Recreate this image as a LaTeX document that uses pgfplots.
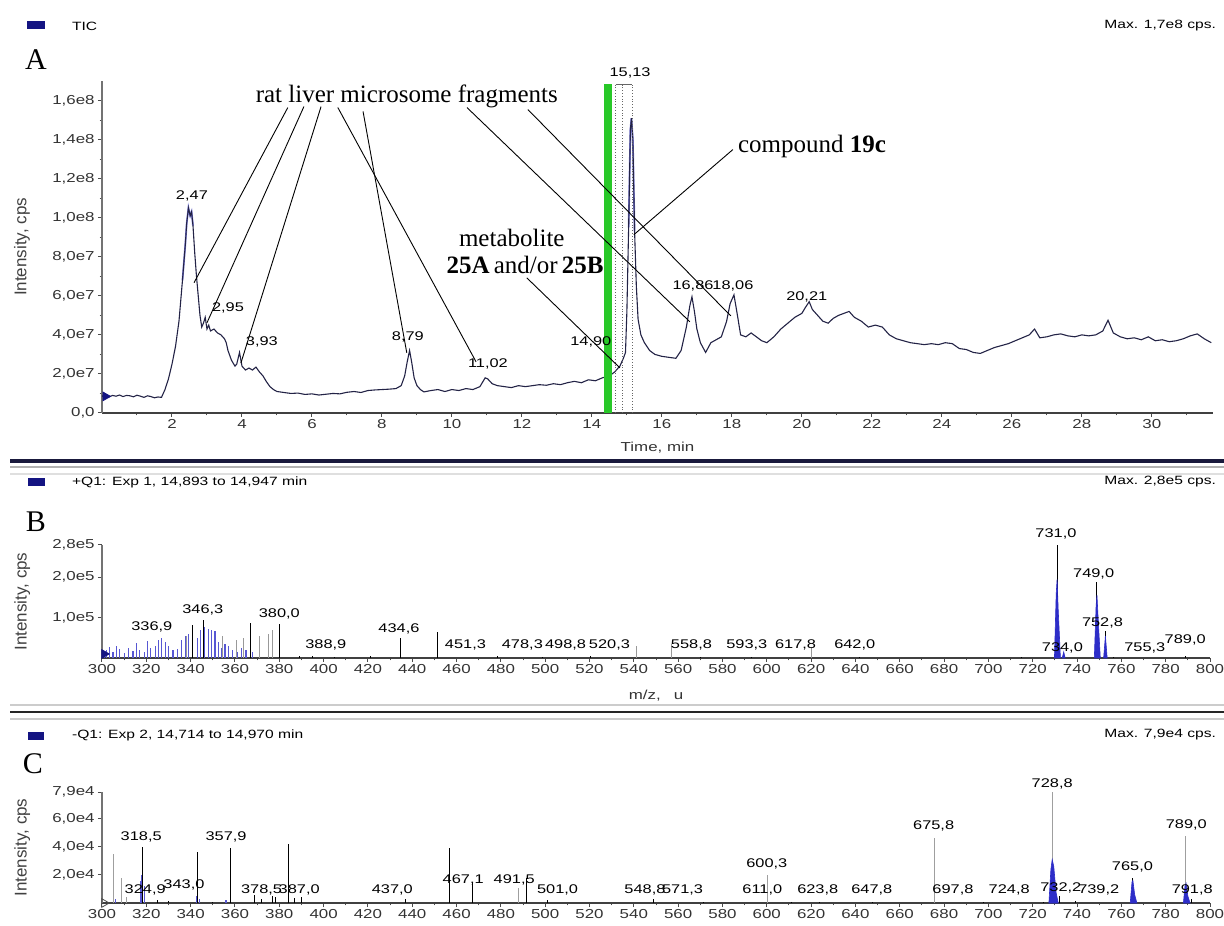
\documentclass[border=0pt]{standalone}
\usepackage{fontspec}
\setmainfont{Liberation Serif}
\setsansfont{Liberation Sans}
\newfontfamily\sansw[FakeStretch=1.3]{Liberation Sans}
\usepackage{pgfplots}
\pgfplotsset{compat=1.18}
\definecolor{navy}{RGB}{20,20,130}
\definecolor{trace}{RGB}{35,35,70}
\definecolor{bblue}{RGB}{45,45,200}
\definecolor{lgreen}{RGB}{40,200,40}
\newcommand\tickf{\sansw\fontsize{6.5}{7.5}\selectfont}
\newcommand\labf{\sansw\fontsize{6.3}{7}\selectfont}
\newcommand\headf{\sansw\fontsize{6}{7}\selectfont}
\newcommand\annf{\fontsize{12.5}{14}\selectfont}
\newcommand\bigf{\fontsize{15}{16}\selectfont}
\newcommand\ylabf{\sffamily\fontsize{8.5}{9}\selectfont}

\pgfplotsset{
 msstyle/.style={
  scale only axis,
  axis lines=left,
  axis line style={-},
  x axis line style={-, line width=1pt, color=black!75},
  y axis line style={-, line width=0.6pt, color=black!55},
  tick align=outside,
  major tick length=2pt,
  minor tick length=1.2pt,
  every tick/.style={black!70, line width=0.5pt},
  tick label style={font=\tickf, color=black!80},
  /pgf/number format/assume math mode=true,
  xticklabel style={inner sep=1pt},
  yticklabel style={inner sep=1.5pt},
  every axis y label/.style={at={(axis description cs:-0.072,0.5)},rotate=90,anchor=center,font=\ylabf,color=black!75},
  clip=false,
 }
}

\begin{document}
\begin{tikzpicture}
\path[use as bounding box] (0,0) rectangle (612pt,462.5pt);

% ---------- headers ----------
\fill[navy] (13.5pt,448pt) rectangle (22.5pt,452pt);
\node[anchor=west,font=\headf] at (32.5pt,449.5pt) {TIC};
\node[anchor=east,font=\headf] at (611.5pt,449.5pt) {Max. 1,7e8 cps.};
\node[font=\bigf] at (18pt,432.5pt) {A};

\fill[navy] (14pt,219.5pt) rectangle (22.5pt,223.5pt);
\node[anchor=west,font=\headf] at (32.5pt,221.5pt) {+Q1: Exp 1, 14,893 to 14,947 min};
\node[anchor=east,font=\headf] at (611.5pt,221.5pt) {Max. 2,8e5 cps.};
\node[font=\bigf] at (18pt,201.5pt) {B};

\fill[navy] (14pt,92.5pt) rectangle (22pt,96.5pt);
\node[anchor=west,font=\headf] at (32.5pt,95pt) {-Q1: Exp 2, 14,714 to 14,970 min};
\node[anchor=east,font=\headf] at (611.5pt,95pt) {Max. 7,9e4 cps.};
\node[font=\bigf] at (16.5pt,80.5pt) {C};

% ---------- separators ----------
\draw[line width=1.6pt, color={rgb,255:red,25;green,25;blue,60}] (5pt,232pt) -- (612pt,232pt);
\draw[line width=0.8pt, gray!60] (5pt,229pt) -- (612pt,229pt);
\draw[line width=0.6pt, gray!25] (5pt,225.5pt) -- (612pt,225.5pt);
\draw[line width=0.8pt, gray!40] (5pt,110pt) -- (612pt,110pt);
\draw[line width=1.2pt, black!85] (5pt,106.5pt) -- (612pt,106.5pt);
\draw[line width=0.8pt, gray!40] (5pt,103pt) -- (612pt,103pt);

% ================= PANEL A =================
\begin{axis}[msstyle,
  at={(51pt,256pt)}, anchor=south west,
  width=555.5pt, height=166pt,
  xmin=0, xmax=31.75, ymin=0, ymax=17,
  xtick={2,4,...,30}, minor xtick={1,3,...,31},
  ytick={0,2,...,16}, minor ytick={1,3,...,15},
  yticklabels={{0,0},{2,0e7},{4,0e7},{6,0e7},{8,0e7},{1,0e8},{1,2e8},{1,4e8},{1,6e8}},
  xlabel={Time, min},
  every axis x label/.style={at={(axis description cs:0.5,-0.105)},anchor=center,font=\tickf,color=black!80},
  ylabel={Intensity, cps},
]
\addplot[color=bblue, line width=0.9pt, opacity=0.6] coordinates {
(2.30,6.80)(2.38,8.60)(2.42,9.70)(2.47,10.50)(2.52,10.10)(2.56,10.30)(2.60,9.60)
};
\addplot[color=bblue, line width=0.9pt, opacity=0.6] coordinates {
(15.05,9.50)(15.10,14.50)(15.13,15.10)(15.17,14.00)(15.22,9.30)
};
\addplot[color=trace, line width=0.55pt] coordinates {
(0.00,0.85)(0.10,0.95)(0.20,0.82)(0.30,0.90)(0.40,0.86)(0.50,0.92)(0.60,0.84)(0.70,0.90)
(0.80,0.88)(0.90,0.83)(1.00,0.91)(1.10,0.86)(1.20,0.80)(1.30,0.88)(1.40,0.84)(1.50,0.78)
(1.60,0.82)(1.70,0.80)(1.80,1.20)(1.90,1.75)(2.00,2.50)(2.10,3.40)(2.20,4.70)(2.30,6.80)
(2.38,8.60)(2.42,9.70)(2.47,10.50)(2.52,10.10)(2.56,10.30)(2.60,9.60)(2.65,8.20)(2.70,7.00)
(2.75,6.00)(2.80,5.00)(2.85,4.40)(2.90,4.60)(2.95,4.90)(3.00,4.30)(3.05,4.50)(3.10,4.20)
(3.20,4.30)(3.30,4.10)(3.40,4.00)(3.50,3.80)(3.55,3.60)(3.60,3.20)(3.70,2.70)(3.80,2.40)
(3.85,2.50)(3.93,3.10)(4.00,2.40)(4.10,2.20)(4.20,2.30)(4.30,2.20)(4.40,2.35)(4.50,2.10)
(4.60,1.90)(4.70,1.60)(4.80,1.35)(4.90,1.20)(5.00,1.10)(5.20,1.05)(5.40,1.00)(5.60,1.02)
(5.80,0.95)(6.00,0.98)(6.20,0.92)(6.40,0.96)(6.60,1.00)(6.80,0.98)(7.00,1.06)(7.20,1.10)
(7.40,1.05)(7.60,1.15)(7.80,1.18)(8.00,1.20)(8.20,1.22)(8.40,1.25)(8.55,1.40)(8.65,1.90)
(8.72,2.60)(8.79,3.20)(8.85,2.60)(8.92,1.80)(9.00,1.40)(9.10,1.20)(9.20,1.08)(9.40,1.15)
(9.60,1.20)(9.80,1.10)(10.00,1.20)(10.20,1.15)(10.40,1.25)(10.60,1.20)(10.80,1.35)(10.95,1.80)
(11.02,1.75)(11.15,1.50)(11.30,1.40)(11.50,1.35)(11.70,1.30)(11.90,1.40)(12.10,1.35)(12.30,1.40)
(12.50,1.45)(12.70,1.42)(12.90,1.50)(13.10,1.45)(13.30,1.55)(13.50,1.62)(13.70,1.55)(13.90,1.70)
(14.10,1.65)(14.30,1.80)(14.50,1.90)(14.65,2.10)(14.80,2.40)(14.90,2.80)(14.96,3.10)(15.00,5.20)
(15.05,9.50)(15.10,14.50)(15.13,15.10)(15.17,14.00)(15.22,9.30)(15.27,6.50)(15.32,4.80)(15.40,4.00)
(15.50,3.60)(15.65,3.20)(15.80,3.00)(16.00,2.90)(16.20,2.85)(16.40,2.80)(16.55,3.20)(16.70,4.40)
(16.80,5.50)(16.86,5.95)(16.93,5.20)(17.00,4.30)(17.10,3.60)(17.25,3.10)(17.40,3.60)(17.55,3.75)
(17.70,3.90)(17.85,4.70)(17.95,5.60)(18.06,6.05)(18.15,5.10)(18.25,4.00)(18.40,3.90)(18.55,4.10)
(18.70,3.90)(18.85,3.70)(19.00,3.60)(19.20,3.90)(19.40,4.30)(19.60,4.60)(19.80,4.90)(20.00,5.10)
(20.10,5.40)(20.21,5.70)(20.30,5.30)(20.45,5.00)(20.60,4.70)(20.75,4.60)(20.90,4.85)(21.05,5.00)
(21.20,5.10)(21.35,5.20)(21.50,4.90)(21.70,4.70)(21.90,4.40)(22.10,4.50)(22.30,4.40)(22.50,4.00)
(22.70,3.80)(22.90,3.70)(23.10,3.60)(23.30,3.55)(23.50,3.50)(23.70,3.55)(23.90,3.50)(24.10,3.60)
(24.30,3.55)(24.50,3.30)(24.70,3.25)(24.90,3.10)(25.10,3.05)(25.30,3.20)(25.50,3.35)(25.70,3.45)
(25.90,3.55)(26.10,3.70)(26.30,3.85)(26.50,4.00)(26.65,4.30)(26.80,3.85)(27.00,3.90)(27.20,4.00)
(27.40,4.05)(27.60,3.95)(27.80,3.90)(28.00,4.00)(28.20,3.95)(28.40,4.00)(28.60,4.20)(28.75,4.75)
(28.90,4.10)(29.10,3.90)(29.30,3.80)(29.50,3.85)(29.70,3.75)(29.90,3.90)(30.10,3.70)(30.30,3.75)
(30.50,3.65)(30.70,3.70)(30.90,3.80)(31.10,3.95)(31.30,4.05)(31.50,3.80)(31.70,3.60)
};
\addplot[only marks, mark=triangle*, mark size=2.5pt, color=navy, mark options={rotate=-90}] coordinates {(0.1,0.85)};
% green time window and dotted markers
\fill[lgreen] (axis cs:14.34,0) rectangle (axis cs:14.57,16.85);
\draw[densely dotted, black!60, line width=0.4pt] (axis cs:14.68,0) -- (axis cs:14.68,16.85);
\draw[densely dotted, black!60, line width=0.4pt] (axis cs:14.87,0) -- (axis cs:14.87,16.85);
\draw[densely dotted, black!60, line width=0.4pt] (axis cs:15.16,0) -- (axis cs:15.16,16.85);
\draw[black!60, line width=0.3pt] (axis cs:14.68,16.85) -- (axis cs:15.16,16.85);
% peak labels
\node[font=\labf] at (axis cs:2.57,11.1) {2,47};
\node[font=\labf] at (axis cs:3.6,5.4) {2,95};
\node[font=\labf] at (axis cs:4.57,3.64) {3,93};
\node[font=\labf] at (axis cs:8.74,3.9) {8,79};
\node[font=\labf] at (axis cs:11.03,2.5) {11,02};
\node[font=\labf] at (axis cs:13.97,3.64) {14,90};
\node[font=\labf] at (axis cs:15.09,17.4) {15,13};
\node[font=\labf] at (axis cs:16.89,6.5) {16,86};
\node[font=\labf] at (axis cs:18.03,6.5) {18,06};
\node[font=\labf] at (axis cs:20.14,5.95) {20,21};
% annotations
\node[font=\annf] at (axis cs:8.71,16.2) {rat liver microsome fragments};
\draw[black, line width=0.45pt] (axis cs:5.31,15.64) -- (axis cs:2.63,6.67);
\draw[black, line width=0.45pt] (axis cs:5.77,15.69) -- (axis cs:3.0,4.62);
\draw[black, line width=0.45pt] (axis cs:6.26,15.69) -- (axis cs:3.97,2.56);
\draw[black, line width=0.45pt] (axis cs:6.74,15.64) -- (axis cs:10.69,2.62);
\draw[black, line width=0.45pt] (axis cs:7.46,15.44) -- (axis cs:8.71,3.08);
\draw[black, line width=0.45pt] (axis cs:10.43,15.64) -- (axis cs:16.8,4.67);
\draw[black, line width=0.45pt] (axis cs:12.17,15.54) -- (axis cs:17.97,4.97);
\node[font=\annf] at (axis cs:20.29,13.64) {compound \textbf{19c}};
\draw[black, line width=0.45pt] (axis cs:18.03,13.49) -- (axis cs:15.2,9.13);
\node[font=\annf] at (axis cs:11.71,8.97) {metabolite};
\node[font=\annf] at (axis cs:12.09,7.59) {\textbf{25A}\,and/or\,\textbf{25B}};
\draw[black, line width=0.45pt] (axis cs:12.14,6.92) -- (axis cs:14.8,2.31);
\end{axis}

% ================= PANEL B =================
\begin{axis}[msstyle,
  at={(51pt,133.5pt)}, anchor=south west,
  width=554pt, height=56.5pt,
  xmin=300, xmax=800, ymin=0, ymax=2.8,
  xtick={300,320,...,800}, minor xtick={310,330,...,790},
  ytick={1,2,2.8}, yticklabels={{1,0e5},{2,0e5},{2,8e5}},
  xlabel={m/z,\quad u},
  every axis x label/.style={at={(axis description cs:0.5,-0.336)},anchor=center,font=\tickf,color=black!80},
  ylabel={Intensity, cps},
]
\addplot[ycomb, color=bblue!80, line width=0.6pt] coordinates {
(301,0.12)(302,0.2)(303.5,0.28)(305,0.15)(306.5,0.3)(308,0.22)(310,0.12)(312,0.25)(314,0.18)
(315.5,0.38)(317,0.2)(319,0.15)(320.5,0.42)(322,0.25)(324,0.3)(325.5,0.45)(327,0.5)(328.5,0.4)
(330,0.3)(332,0.2)(334,0.22)(336,0.45)(337.5,0.55)(339,0.6)(341,0.4)(343,0.5)(344.5,0.7)
(346.3,0.78)(348,0.72)(349.5,0.7)(351,0.68)(352.5,0.4)(354,0.25)(355.5,0.35)(357,0.3)(359,0.2)
(361,0.15)(363,0.25)(365,0.2)(368,0.15)
};
\addplot[ycomb, color=gray!80, line width=0.5pt] coordinates {
(338,0.55)(354.5,0.55)(360.5,0.45)(364,0.5)(371,0.55)(375,0.6)(377,0.7)
(541,0.3)(557,0.35)(620,0.28)
};
\addplot[ycomb, color=black, line width=0.5pt] coordinates {
(340.7,0.83)(345.8,0.95)(367,0.87)(380,0.84)(388.9,0.06)(395,0.04)(405,0.03)(421,0.05)
(434.6,0.5)(451.3,0.65)(478.3,0.04)(498.8,0.03)(520.3,0.05)(570,0.03)(593.3,0.03)(642,0.02)
(715,0.03)(731,2.8)(734,0.1)(748.8,1.88)(752.8,0.67)(756.3,0.03)(789,0.06)
};
\addplot[fill=bblue, draw=bblue, line width=0.3pt] coordinates {(729.8,0)(730.6,1.6)(731,1.95)(731.5,1.2)(732.5,0)} -- cycle;
\addplot[fill=bblue, draw=bblue, line width=0.3pt] coordinates {(747.8,0)(748.6,1.3)(749,1.55)(749.5,1.0)(750.5,0)} -- cycle;
\addplot[fill=bblue, draw=bblue, line width=0.3pt] coordinates {(752,0)(752.8,0.55)(753.6,0)} -- cycle;
\addplot[fill=bblue, draw=bblue, line width=0.3pt] coordinates {(733.3,0)(734,0.15)(734.6,0)} -- cycle;
\addplot[only marks, mark=triangle*, mark size=2.5pt, color=navy, mark options={rotate=-90}] coordinates {(301,0.1)};
\node[font=\labf] at (axis cs:322.5,0.77) {336,9};
\node[font=\labf] at (axis cs:345.5,1.18) {346,3};
\node[font=\labf] at (axis cs:380,1.1) {380,0};
\node[font=\labf] at (axis cs:401,0.32) {388,9};
\node[font=\labf] at (axis cs:434,0.72) {434,6};
\node[font=\labf] at (axis cs:464,0.32) {451,3};
\node[font=\labf] at (axis cs:489.7,0.32) {478,3};
\node[font=\labf] at (axis cs:509.2,0.32) {498,8};
\node[font=\labf] at (axis cs:529,0.32) {520,3};
\node[font=\labf] at (axis cs:566,0.32) {558,8};
\node[font=\labf] at (axis cs:591,0.32) {593,3};
\node[font=\labf] at (axis cs:613,0.32) {617,8};
\node[font=\labf] at (axis cs:639.7,0.32) {642,0};
\node[font=\labf] at (axis cs:730.5,3.08) {731,0};
\node[font=\labf] at (axis cs:747.5,2.08) {749,0};
\node[font=\labf] at (axis cs:751.5,0.875) {752,8};
\node[font=\labf] at (axis cs:733.4,0.25) {734,0};
\node[font=\labf] at (axis cs:770.6,0.25) {755,3};
\node[font=\labf] at (axis cs:788.8,0.46) {789,0};
\end{axis}

% ================= PANEL C =================
\begin{axis}[msstyle,
  at={(51pt,11pt)}, anchor=south west,
  width=554pt, height=55.5pt,
  xmin=300, xmax=800, ymin=0, ymax=7.9,
  xtick={300,320,...,800}, minor xtick={310,330,...,790},
  ytick={2,4,6,7.9}, yticklabels={{2,0e4},{4,0e4},{6,0e4},{7,9e4}},
  ylabel={Intensity, cps},
]
\addplot[ycomb, color=gray!75, line width=0.5pt] coordinates {
(305.4,3.5)(308.6,1.8)(311,0.4)(488,1.05)(600.3,2.0)(675.8,4.6)(728.8,7.9)(789,4.75)
};
\addplot[ycomb, color=bblue!80, line width=0.6pt] coordinates {
(306,0.3)(317.5,1.6)(318,2.0)(319,1.2)(342.5,0.5)(344,0.3)(356,0.2)
};
\addplot[ycomb, color=black, line width=0.5pt] coordinates {
(318.5,4.0)(324.9,0.2)(330,0.15)(343,3.65)(350,0.1)(357.9,3.9)(369,0.6)(372,0.3)(377,0.5)
(378.5,0.4)(384,4.2)(387,0.35)(390,0.4)(437,0.3)(457,3.9)(467.1,1.5)(491.5,1.8)(501,0.2)
(548.8,0.25)(571.3,0.1)(611,0.1)(623.8,0.1)(647.8,0.1)(697.8,0.1)(724.8,0.1)(732.2,0.5)
(739.2,0.15)(765,1.75)(791.8,0.3)
};
\addplot[fill=bblue, draw=bblue, line width=0.3pt] coordinates {(727.3,0)(728.2,2.4)(728.8,3.1)(729.5,2.6)(730.5,0.8)(731.5,0)} -- cycle;
\addplot[fill=bblue, draw=bblue, line width=0.3pt] coordinates {(764,0)(764.8,1.5)(765.2,1.6)(766,0.6)(767,0)} -- cycle;
\addplot[fill=bblue, draw=bblue, line width=0.3pt] coordinates {(788,0)(788.7,1.2)(789.2,1.4)(790,0.5)(791,0)} -- cycle;
\addplot[only marks, mark=triangle, mark size=2.5pt, color=black!70, mark options={rotate=-90}] coordinates {(301,0)};
\node[font=\labf] at (axis cs:317.7,4.7) {318,5};
\node[font=\labf] at (axis cs:319.5,0.95) {324,9};
\node[font=\labf] at (axis cs:337,1.3) {343,0};
\node[font=\labf] at (axis cs:356,4.7) {357,9};
\node[font=\labf] at (axis cs:372,0.95) {378,5};
\node[font=\labf] at (axis cs:389,0.95) {387,0};
\node[font=\labf] at (axis cs:431,0.95) {437,0};
\node[font=\labf] at (axis cs:463,1.65) {467,1};
\node[font=\labf] at (axis cs:486,1.65) {491,5};
\node[font=\labf] at (axis cs:505.6,0.95) {501,0};
\node[font=\labf] at (axis cs:545,0.95) {548,8};
\node[font=\labf] at (axis cs:562,0.95) {571,3};
\node[font=\labf] at (axis cs:600,2.76) {600,3};
\node[font=\labf] at (axis cs:598,0.95) {611,0};
\node[font=\labf] at (axis cs:623,0.95) {623,8};
\node[font=\labf] at (axis cs:647.4,0.95) {647,8};
\node[font=\labf] at (axis cs:675.3,5.5) {675,8};
\node[font=\labf] at (axis cs:684,0.95) {697,8};
\node[font=\labf] at (axis cs:709.4,0.95) {724,8};
\node[font=\labf] at (axis cs:732.7,1.05) {732,2};
\node[font=\labf] at (axis cs:749.8,0.95) {739,2};
\node[font=\labf] at (axis cs:728.8,8.5) {728,8};
\node[font=\labf] at (axis cs:765,2.55) {765,0};
\node[font=\labf] at (axis cs:789.3,5.55) {789,0};
\node[font=\labf] at (axis cs:792,0.95) {791,8};
\end{axis}
\end{tikzpicture}
\end{document}
